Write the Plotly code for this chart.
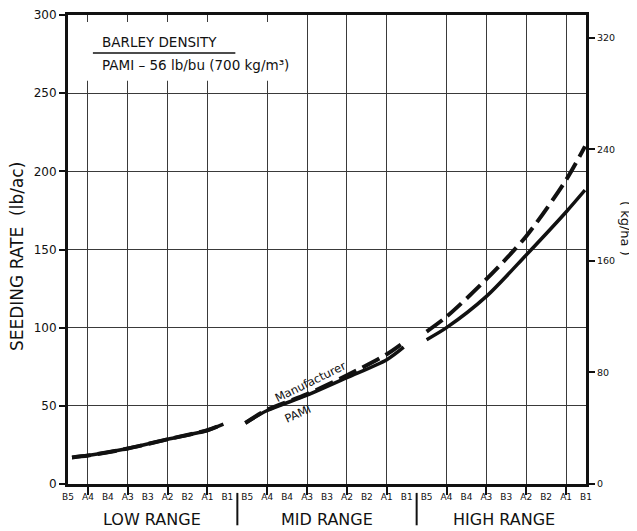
import plotly.graph_objects as go

# ---- data ----
range_names = ["LOW RANGE", "MID RANGE", "HIGH RANGE"]
settings = ["B5", "A4", "B4", "A3", "B3", "A2", "B2", "A1", "B1"]
tick_text = settings * 3
tick_pos = list(range(len(tick_text)))
grid_pos = [i for i, s in enumerate(tick_text) if s.startswith("A")]
range_centers = [4.2, 13.0, 21.9]
range_separators = [8.5, 17.5]

left_ticks = [0, 50, 100, 150, 200, 250, 300]
right_ticks = [0, 80, 160, 240, 320]
LB_TO_KG = 1.1209

# seeding rate (lb/ac) vs. setting position
low_x = [0.2, 1, 3, 5, 7, 7.8]
low_mfr = [17.0, 18.2, 22.7, 28.6, 34.4, 38.3]
low_pami = [17.0, 18.2, 22.7, 28.6, 34.4, 38.3]

mid_x = [8.9, 10, 12, 14, 16, 16.85]
mid_mfr = [39.0, 47.5, 57.5, 69.5, 83.0, 90.5]
mid_pami = [39.0, 47.0, 56.8, 68.0, 79.5, 87.5]

high_x = [18.0, 19, 21, 23, 25, 25.95]
high_mfr = [97.5, 107.0, 131.0, 158.5, 194.5, 216.0]
high_pami = [92.3, 100.0, 120.0, 146.5, 174.0, 188.0]

FONT = "DejaVu Sans"
INK = "#111111"

fig = go.Figure()
for xs, ys in [(low_x, low_pami), (mid_x, mid_pami), (high_x, high_pami)]:
    fig.add_trace(go.Scatter(x=xs, y=ys, mode="lines", showlegend=False,
                             line=dict(color=INK, width=3.5, shape="spline", smoothing=0.8)))
for xs, ys in [(low_x, low_mfr), (mid_x, mid_mfr), (high_x, high_mfr)]:
    fig.add_trace(go.Scatter(x=xs, y=ys, mode="lines", showlegend=False,
                             line=dict(color=INK, width=4, shape="spline", smoothing=0.8,
                                       dash="19px,7px")))
# helper traces so the overlay axes are drawn
fig.add_trace(go.Scatter(x=[None], y=[None], xaxis="x2", yaxis="y", showlegend=False))
fig.add_trace(go.Scatter(x=[None], y=[None], xaxis="x", yaxis="y2", showlegend=False))

# page body has an 8px margin: size/margins compensate for it
fig.update_layout(
    width=629, height=523,
    margin=dict(l=60, r=51, t=7, b=47, autoexpand=False),
    paper_bgcolor="white", plot_bgcolor="white",
    font=dict(family=FONT, color=INK),
    xaxis=dict(range=[0, 26], tickmode="array", tickvals=grid_pos, showticklabels=False,
               ticks="outside", ticklen=8, tickwidth=1.5, tickcolor=INK,
               showgrid=True, gridcolor="#3a3a3a", gridwidth=1,
               showline=True, linewidth=2.5, linecolor=INK, mirror=True, zeroline=False),
    xaxis2=dict(range=[0, 26], overlaying="x", anchor="y", side="bottom",
                tickmode="array", tickvals=tick_pos, ticktext=tick_text, tickangle=0,
                ticks="", showgrid=False, showline=False, zeroline=False,
                ticklabelstandoff=6,
                tickfont=dict(size=9, family=FONT, color=INK)),
    yaxis=dict(range=[0, 300], tickmode="array", tickvals=left_ticks,
               ticks="outside", ticklen=6, tickwidth=2, tickcolor=INK,
               showgrid=True, gridcolor="#3a3a3a", gridwidth=1,
               showline=True, linewidth=3, linecolor=INK, zeroline=False,
               tickfont=dict(size=12, family=FONT, color=INK)),
    yaxis2=dict(range=[0, 300 * LB_TO_KG], overlaying="y", anchor="x", side="right",
                tickmode="array", tickvals=right_ticks,
                ticks="outside", ticklen=6, tickwidth=2, tickcolor=INK,
                showgrid=False, showline=True, linewidth=3, linecolor=INK, zeroline=False,
                tickfont=dict(size=9.5, family=FONT, color=INK)),
)

shapes = [
    dict(type="rect", xref="x", yref="y", x0=0.08, x1=11.7, y0=258, y1=295.5,
         fillcolor="white", line=dict(width=0), layer="between"),
    dict(type="line", xref="x", yref="y", x0=1.25, x1=8.4, y0=275.7, y1=275.7,
         line=dict(color=INK, width=1.5)),
]
for sx in range_separators:
    shapes.append(dict(type="line", xref="x", yref="paper", x0=sx, x1=sx, y0=-0.019, y1=-0.088,
                       line=dict(color=INK, width=2)))
fig.update_layout(shapes=shapes)

ann = []
for name, cx in zip(range_names, range_centers):
    ann.append(dict(text=name, x=cx, xref="x", y=0, yref="paper", yanchor="middle",
                    yshift=-35, showarrow=False, font=dict(size=16, family=FONT, color=INK)))
ann += [
    dict(text="BARLEY DENSITY", x=1.6, y=283, xref="x", yref="y", xanchor="left",
         showarrow=False, font=dict(size=13.5, family=FONT, color=INK)),
    dict(text="PAMI – 56 lb/bu (700 kg/m³)", x=1.6, y=268, xref="x", yref="y", xanchor="left",
         showarrow=False, font=dict(size=13.5, family=FONT, color=INK)),
    dict(text="Manufacturer", x=12.15, y=65, xref="x", yref="y", textangle=-26,
         showarrow=False, font=dict(size=11.5, family=FONT, color=INK)),
    dict(text="PAMI", x=11.5, y=45, xref="x", yref="y", textangle=-24,
         showarrow=False, font=dict(size=11.5, family=FONT, color=INK)),
    dict(text="SEEDING RATE  (lb/ac)", x=0, xref="paper", xanchor="center", xshift=-51,
         y=0.484, yref="paper", yanchor="middle",
         textangle=-90, showarrow=False, font=dict(size=17, family=FONT, color=INK)),
    dict(text="( kg/ha )", x=1, xref="paper", xanchor="center", xshift=39,
         y=0.546, yref="paper", yanchor="middle",
         textangle=90, showarrow=False, font=dict(size=13, family=FONT, color=INK)),
]
fig.update_layout(annotations=ann)

fig.write_html("out.html")
